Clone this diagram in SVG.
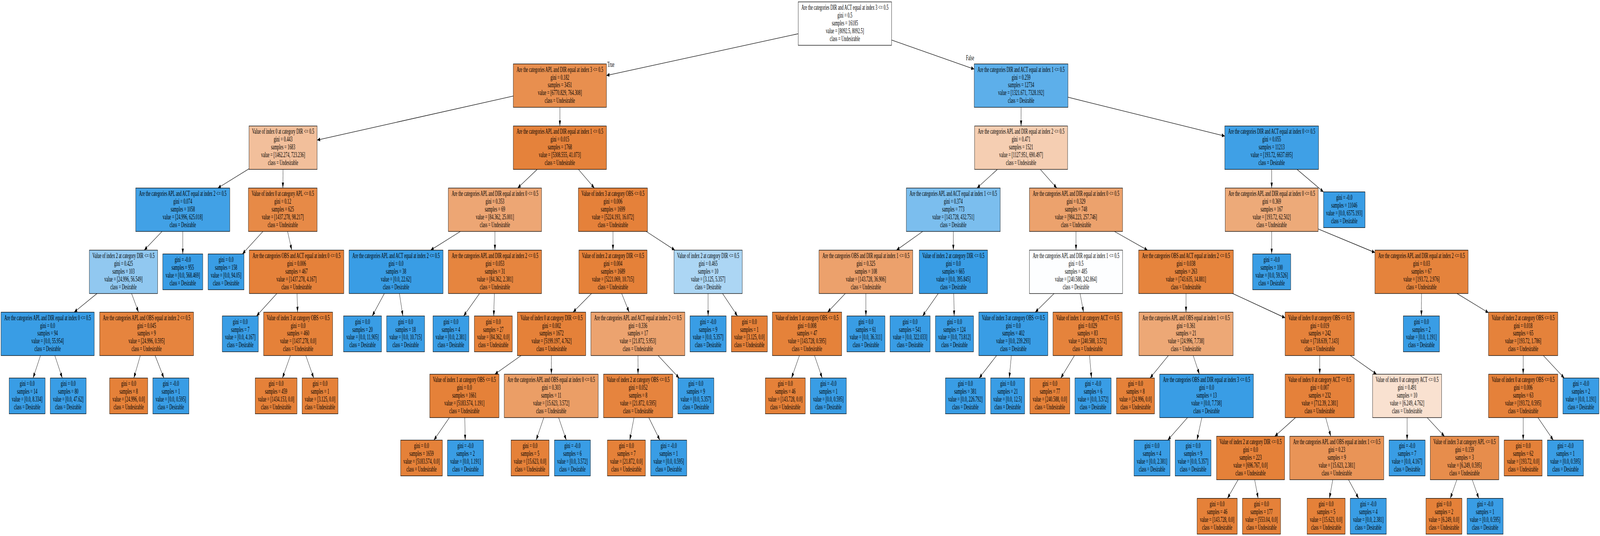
<svg xmlns="http://www.w3.org/2000/svg" width="7465" height="1371" viewBox="0 0 7465 1371" preserveAspectRatio="none">
<style>
svg{width:100vw;height:100vh;display:block}
text{font-family:"Liberation Serif","Times New Roman",serif;font-size:18px;text-anchor:middle;fill:#000}
.node rect{stroke:#000;stroke-width:1.3}
.o rect{fill:#e58139}
.b rect{fill:#399de5}
#edges line{stroke:#000;stroke-width:1.3;marker-end:url(#ah)}
</style>
<defs>
<marker id="ah" markerUnits="userSpaceOnUse" viewBox="0 0 14 10" markerWidth="14" markerHeight="10" refX="14" refY="5" orient="auto"><path d="M0,0L14,5L0,10z" fill="#000"/></marker>
</defs>
<rect width="7465" height="1371" fill="#fff"/>
<g id="edges">
<line x1="3724" y1="86.3" x2="2829.5" y2="193.1"/>
<line x1="4160" y1="102.4" x2="4545.4" y2="176.8"/>
<line x1="2394.8" y1="245.7" x2="1479.6" y2="358.3"/>
<line x1="2612.15" y1="274.5" x2="2612.15" y2="322.3"/>
<line x1="1162" y1="431.7" x2="1016.35" y2="481"/>
<line x1="1320.3" y1="433.3" x2="1319.8" y2="481"/>
<line x1="756.1" y1="592" x2="672.9" y2="639.8"/>
<line x1="852.75" y1="592" x2="852.75" y2="649.55"/>
<line x1="452.5" y1="750.8" x2="346" y2="798.5"/>
<line x1="613.9" y1="750.8" x2="646.3" y2="798.5"/>
<line x1="188.9" y1="909.5" x2="154.3" y2="966.95"/>
<line x1="255.85" y1="909.5" x2="290.65" y2="966.95"/>
<line x1="654.7" y1="909.5" x2="624.4" y2="966.95"/>
<line x1="723.6" y1="909.5" x2="764.6" y2="966.95"/>
<line x1="1226.8" y1="592" x2="1131" y2="649.55"/>
<line x1="1341.75" y1="592" x2="1361.05" y2="639.8"/>
<line x1="1291.7" y1="750.8" x2="1196.7" y2="808.25"/>
<line x1="1386.1" y1="750.8" x2="1388.4" y2="798.5"/>
<line x1="1355" y1="909.5" x2="1317.8" y2="966.95"/>
<line x1="1426.7" y1="909.5" x2="1463.7" y2="966.95"/>
<line x1="2506.2" y1="433.3" x2="2415.1" y2="481"/>
<line x1="2698.7" y1="433.3" x2="2773.15" y2="481"/>
<line x1="2147.9" y1="592" x2="2009.1" y2="639.8"/>
<line x1="2309.15" y1="592" x2="2309.15" y2="639.8"/>
<line x1="1793.2" y1="750.8" x2="1736.6" y2="808.25"/>
<line x1="1863.5" y1="750.8" x2="1879.6" y2="808.25"/>
<line x1="2237.3" y1="750.8" x2="2163" y2="808.25"/>
<line x1="2306.5" y1="750.8" x2="2303.7" y2="808.25"/>
<line x1="2859.8" y1="592" x2="2859.9" y2="639.8"/>
<line x1="3015" y1="592" x2="3148.6" y2="639.8"/>
<line x1="2759.8" y1="750.8" x2="2673.6" y2="798.5"/>
<line x1="2900.6" y1="750.8" x2="2935.4" y2="798.5"/>
<line x1="2431.1" y1="909.5" x2="2308.75" y2="957.2"/>
<line x1="2572.8" y1="909.5" x2="2572.3" y2="957.2"/>
<line x1="2096.6" y1="1068.2" x2="2024.3" y2="1125.75"/>
<line x1="2168.4" y1="1068.2" x2="2170.4" y2="1125.75"/>
<line x1="2537.2" y1="1068.2" x2="2501.5" y2="1125.75"/>
<line x1="2606.3" y1="1068.2" x2="2642.2" y2="1125.75"/>
<line x1="2976.4" y1="909.5" x2="2976.8" y2="957.2"/>
<line x1="3070.6" y1="909.5" x2="3168.65" y2="966.95"/>
<line x1="2958.1" y1="1068.2" x2="2938.2" y2="1125.75"/>
<line x1="3027.1" y1="1068.2" x2="3078.8" y2="1125.75"/>
<line x1="3303.85" y1="750.8" x2="3303.8" y2="808.25"/>
<line x1="3371.1" y1="750.8" x2="3440.8" y2="808.25"/>
<line x1="4764.05" y1="274.5" x2="4764" y2="322.3"/>
<line x1="4982.7" y1="248.7" x2="5714.5" y2="348.1"/>
<line x1="4653.4" y1="433.3" x2="4558.25" y2="481"/>
<line x1="4853.6" y1="433.3" x2="4930.6" y2="481"/>
<line x1="4305.1" y1="592" x2="4182.5" y2="639.8"/>
<line x1="4447.8" y1="592" x2="4447.9" y2="639.8"/>
<line x1="3943.9" y1="750.8" x2="3861.3" y2="798.5"/>
<line x1="4040" y1="750.8" x2="4040" y2="808.25"/>
<line x1="3729.8" y1="909.5" x2="3693" y2="966.95"/>
<line x1="3800.1" y1="909.5" x2="3836.1" y2="966.95"/>
<line x1="4377.5" y1="750.8" x2="4304.4" y2="808.25"/>
<line x1="4449.9" y1="750.8" x2="4451.8" y2="808.25"/>
<line x1="5020.2" y1="592" x2="5020.2" y2="639.8"/>
<line x1="5199.6" y1="592" x2="5353.9" y2="639.8"/>
<line x1="4918" y1="750.8" x2="4830.1" y2="798.5"/>
<line x1="5039.2" y1="750.8" x2="5055.5" y2="798.5"/>
<line x1="4649.6" y1="909.5" x2="4568.5" y2="966.95"/>
<line x1="4718.6" y1="909.5" x2="4708.9" y2="966.95"/>
<line x1="5012.9" y1="909.5" x2="4949.15" y2="966.95"/>
<line x1="5083.35" y1="909.5" x2="5092.5" y2="966.95"/>
<line x1="5533.4" y1="750.8" x2="5533.5" y2="798.5"/>
<line x1="5751.5" y1="750.8" x2="5996" y2="813"/>
<line x1="5451.2" y1="909.5" x2="5365.7" y2="966.95"/>
<line x1="5567.1" y1="909.5" x2="5595.9" y2="957.2"/>
<line x1="5540.35" y1="1068.2" x2="5448.2" y2="1125.75"/>
<line x1="5607.3" y1="1068.2" x2="5584.6" y2="1125.75"/>
<line x1="6157.3" y1="909.5" x2="6157.3" y2="957.2"/>
<line x1="6299.8" y1="909.5" x2="6422.5" y2="957.2"/>
<line x1="6044.5" y1="1068.2" x2="5947.5" y2="1116"/>
<line x1="6185.1" y1="1068.2" x2="6209" y2="1116"/>
<line x1="5776.6" y1="1227" x2="5726.7" y2="1274.7"/>
<line x1="5853.7" y1="1227" x2="5870.05" y2="1274.7"/>
<line x1="6218.3" y1="1227" x2="6202.5" y2="1274.7"/>
<line x1="6291.65" y1="1227" x2="6338.8" y2="1274.7"/>
<line x1="6565" y1="1068.2" x2="6565" y2="1125.75"/>
<line x1="6658.7" y1="1068.2" x2="6739.3" y2="1116"/>
<line x1="6797.2" y1="1227" x2="6766.5" y2="1274.7"/>
<line x1="6868.8" y1="1227" x2="6899.5" y2="1274.7"/>
<line x1="5933.2" y1="433.3" x2="5933.15" y2="481"/>
<line x1="6051.65" y1="433.3" x2="6175" y2="490.9"/>
<line x1="5933.2" y1="592" x2="5933.2" y2="649.55"/>
<line x1="6150" y1="585.7" x2="6415" y2="646"/>
<line x1="6632.2" y1="750.8" x2="6631.75" y2="808.25"/>
<line x1="6798" y1="750.8" x2="6945" y2="800"/>
<line x1="7106.5" y1="909.5" x2="7106.5" y2="957.2"/>
<line x1="7200.7" y1="909.5" x2="7298.3" y2="966.95"/>
<line x1="7106.5" y1="1068.2" x2="7106.5" y2="1125.75"/>
<line x1="7175.55" y1="1068.2" x2="7247.1" y2="1125.75"/>
<text x="2850" y="171">True</text>
<text x="4526" y="154">False</text>
</g>
<g id="n0" class="node"><rect x="3724" y="4.8" width="436" height="111" fill="#ffffff"/><text y="25"><tspan x="3942">Are the categories DIR and ACT equal at index 3 &lt;= 0.5</tspan><tspan x="3942" dy="19.9">gini = 0.5</tspan><tspan x="3942" dy="19.9">samples = 16185</tspan><tspan x="3942" dy="19.9">value = [8092.5, 8092.5]</tspan><tspan x="3942" dy="19.9">class = Undesirable</tspan></text></g>
<g id="n1" class="node"><rect x="2394.8" y="163.5" width="434.7" height="111" fill="#e88f4f"/><text y="183.7"><tspan x="2612.15">Are the categories APL and DIR equal at index 3 &lt;= 0.5</tspan><tspan x="2612.15" dy="19.9">gini = 0.182</tspan><tspan x="2612.15" dy="19.9">samples = 3451</tspan><tspan x="2612.15" dy="19.9">value = [6770.829, 764.308]</tspan><tspan x="2612.15" dy="19.9">class = Undesirable</tspan></text></g>
<g id="n2" class="node"><rect x="1162" y="322.3" width="317.6" height="111" fill="#f2bf9b"/><text y="342.5"><tspan x="1320.8">Value of index 0 at category DIR &lt;= 0.5</tspan><tspan x="1320.8" dy="19.9">gini = 0.443</tspan><tspan x="1320.8" dy="19.9">samples = 1683</tspan><tspan x="1320.8" dy="19.9">value = [1462.274, 723.236]</tspan><tspan x="1320.8" dy="19.9">class = Undesirable</tspan></text></g>
<g id="n3" class="node"><rect x="633.5" y="481" width="438.5" height="111" fill="#41a1e6"/><text y="501.2"><tspan x="852.75">Are the categories APL and ACT equal at index 2 &lt;= 0.5</tspan><tspan x="852.75" dy="19.9">gini = 0.074</tspan><tspan x="852.75" dy="19.9">samples = 1058</tspan><tspan x="852.75" dy="19.9">value = [24.996, 625.018]</tspan><tspan x="852.75" dy="19.9">class = Desirable</tspan></text></g>
<g id="n4" class="node"><rect x="417" y="639.8" width="318.5" height="111" fill="#91c8f0"/><text y="660"><tspan x="576.25">Value of index 2 at category DIR &lt;= 0.5</tspan><tspan x="576.25" dy="19.9">gini = 0.425</tspan><tspan x="576.25" dy="19.9">samples = 103</tspan><tspan x="576.25" dy="19.9">value = [24.996, 56.549]</tspan><tspan x="576.25" dy="19.9">class = Desirable</tspan></text></g>
<g id="n5" class="node b"><rect x="5" y="798.5" width="434.5" height="111"/><text y="818.7"><tspan x="222.25">Are the categories APL and DIR equal at index 0 &lt;= 0.5</tspan><tspan x="222.25" dy="19.9">gini = 0.0</tspan><tspan x="222.25" dy="19.9">samples = 94</tspan><tspan x="222.25" dy="19.9">value = [0.0, 55.954]</tspan><tspan x="222.25" dy="19.9">class = Desirable</tspan></text></g>
<g id="n6" class="node b"><rect x="43" y="966.95" width="167.6" height="91.5"/><text y="987.35"><tspan x="126.8">gini = 0.0</tspan><tspan x="126.8" dy="19.9">samples = 14</tspan><tspan x="126.8" dy="19.9">value = [0.0, 8.334]</tspan><tspan x="126.8" dy="19.9">class = Desirable</tspan></text></g>
<g id="n7" class="node b"><rect x="234.7" y="966.95" width="167.3" height="91.5"/><text y="987.35"><tspan x="318.35">gini = 0.0</tspan><tspan x="318.35" dy="19.9">samples = 80</tspan><tspan x="318.35" dy="19.9">value = [0.0, 47.62]</tspan><tspan x="318.35" dy="19.9">class = Desirable</tspan></text></g>
<g id="n8" class="node"><rect x="465" y="798.5" width="438" height="111" fill="#e6843e"/><text y="818.7"><tspan x="684">Are the categories APL and OBS equal at index 2 &lt;= 0.5</tspan><tspan x="684" dy="19.9">gini = 0.045</tspan><tspan x="684" dy="19.9">samples = 9</tspan><tspan x="684" dy="19.9">value = [24.996, 0.595]</tspan><tspan x="684" dy="19.9">class = Undesirable</tspan></text></g>
<g id="n9" class="node o"><rect x="511.6" y="966.95" width="177.4" height="91.5"/><text y="987.35"><tspan x="600.3">gini = 0.0</tspan><tspan x="600.3" dy="19.9">samples = 8</tspan><tspan x="600.3" dy="19.9">value = [24.996, 0.0]</tspan><tspan x="600.3" dy="19.9">class = Undesirable</tspan></text></g>
<g id="n10" class="node b"><rect x="713" y="966.95" width="168.5" height="91.5"/><text y="987.35"><tspan x="797.25">gini = -0.0</tspan><tspan x="797.25" dy="19.9">samples = 1</tspan><tspan x="797.25" dy="19.9">value = [0.0, 0.595]</tspan><tspan x="797.25" dy="19.9">class = Desirable</tspan></text></g>
<g id="n11" class="node b"><rect x="759.5" y="649.55" width="186.5" height="91.5"/><text y="669.95"><tspan x="852.75">gini = -0.0</tspan><tspan x="852.75" dy="19.9">samples = 955</tspan><tspan x="852.75" dy="19.9">value = [0.0, 568.469]</tspan><tspan x="852.75" dy="19.9">class = Desirable</tspan></text></g>
<g id="n12" class="node"><rect x="1159" y="481" width="320.6" height="111" fill="#e78a47"/><text y="501.2"><tspan x="1319.3">Value of index 0 at category APL &lt;= 0.5</tspan><tspan x="1319.3" dy="19.9">gini = 0.12</tspan><tspan x="1319.3" dy="19.9">samples = 625</tspan><tspan x="1319.3" dy="19.9">value = [1437.278, 98.217]</tspan><tspan x="1319.3" dy="19.9">class = Undesirable</tspan></text></g>
<g id="n13" class="node b"><rect x="971" y="649.55" width="167.5" height="91.5"/><text y="669.95"><tspan x="1054.75">gini = 0.0</tspan><tspan x="1054.75" dy="19.9">samples = 158</tspan><tspan x="1054.75" dy="19.9">value = [0.0, 94.05]</tspan><tspan x="1054.75" dy="19.9">class = Desirable</tspan></text></g>
<g id="n14" class="node"><rect x="1163" y="639.8" width="441" height="111" fill="#e5813a"/><text y="660"><tspan x="1383.5">Are the categories OBS and ACT equal at index 0 &lt;= 0.5</tspan><tspan x="1383.5" dy="19.9">gini = 0.006</tspan><tspan x="1383.5" dy="19.9">samples = 467</tspan><tspan x="1383.5" dy="19.9">value = [1437.278, 4.167]</tspan><tspan x="1383.5" dy="19.9">class = Undesirable</tspan></text></g>
<g id="n15" class="node b"><rect x="1037" y="808.25" width="168" height="91.5"/><text y="828.65"><tspan x="1121">gini = 0.0</tspan><tspan x="1121" dy="19.9">samples = 7</tspan><tspan x="1121" dy="19.9">value = [0.0, 4.167]</tspan><tspan x="1121" dy="19.9">class = Desirable</tspan></text></g>
<g id="n16" class="node o"><rect x="1230" y="798.5" width="322" height="111"/><text y="818.7"><tspan x="1391">Value of index 3 at category OBS &lt;= 0.5</tspan><tspan x="1391" dy="19.9">gini = 0.0</tspan><tspan x="1391" dy="19.9">samples = 460</tspan><tspan x="1391" dy="19.9">value = [1437.278, 0.0]</tspan><tspan x="1391" dy="19.9">class = Undesirable</tspan></text></g>
<g id="n17" class="node o"><rect x="1190.7" y="966.95" width="194.8" height="91.5"/><text y="987.35"><tspan x="1288.1">gini = 0.0</tspan><tspan x="1288.1" dy="19.9">samples = 459</tspan><tspan x="1288.1" dy="19.9">value = [1434.153, 0.0]</tspan><tspan x="1288.1" dy="19.9">class = Undesirable</tspan></text></g>
<g id="n18" class="node o"><rect x="1409.4" y="966.95" width="167.4" height="91.5"/><text y="987.35"><tspan x="1493.1">gini = 0.0</tspan><tspan x="1493.1" dy="19.9">samples = 1</tspan><tspan x="1493.1" dy="19.9">value = [3.125, 0.0]</tspan><tspan x="1493.1" dy="19.9">class = Undesirable</tspan></text></g>
<g id="n19" class="node"><rect x="2394.8" y="322.3" width="434.7" height="111" fill="#e5823b"/><text y="342.5"><tspan x="2612.15">Are the categories APL and DIR equal at index 1 &lt;= 0.5</tspan><tspan x="2612.15" dy="19.9">gini = 0.015</tspan><tspan x="2612.15" dy="19.9">samples = 1768</tspan><tspan x="2612.15" dy="19.9">value = [5308.555, 41.073]</tspan><tspan x="2612.15" dy="19.9">class = Undesirable</tspan></text></g>
<g id="n20" class="node"><rect x="2091.8" y="481" width="434.7" height="111" fill="#eda674"/><text y="501.2"><tspan x="2309.15">Are the categories APL and DIR equal at index 0 &lt;= 0.5</tspan><tspan x="2309.15" dy="19.9">gini = 0.353</tspan><tspan x="2309.15" dy="19.9">samples = 69</tspan><tspan x="2309.15" dy="19.9">value = [84.362, 25.001]</tspan><tspan x="2309.15" dy="19.9">class = Undesirable</tspan></text></g>
<g id="n21" class="node b"><rect x="1628.7" y="639.8" width="438.3" height="111"/><text y="660"><tspan x="1847.85">Are the categories APL and ACT equal at index 2 &lt;= 0.5</tspan><tspan x="1847.85" dy="19.9">gini = 0.0</tspan><tspan x="1847.85" dy="19.9">samples = 38</tspan><tspan x="1847.85" dy="19.9">value = [0.0, 22.62]</tspan><tspan x="1847.85" dy="19.9">class = Desirable</tspan></text></g>
<g id="n22" class="node b"><rect x="1603" y="808.25" width="177" height="91.5"/><text y="828.65"><tspan x="1691.5">gini = 0.0</tspan><tspan x="1691.5" dy="19.9">samples = 20</tspan><tspan x="1691.5" dy="19.9">value = [0.0, 11.905]</tspan><tspan x="1691.5" dy="19.9">class = Desirable</tspan></text></g>
<g id="n23" class="node b"><rect x="1804" y="808.25" width="177" height="91.5"/><text y="828.65"><tspan x="1892.5">gini = 0.0</tspan><tspan x="1892.5" dy="19.9">samples = 18</tspan><tspan x="1892.5" dy="19.9">value = [0.0, 10.715]</tspan><tspan x="1892.5" dy="19.9">class = Desirable</tspan></text></g>
<g id="n24" class="node"><rect x="2091.8" y="639.8" width="434.7" height="111" fill="#e6853f"/><text y="660"><tspan x="2309.15">Are the categories APL and DIR equal at index 2 &lt;= 0.5</tspan><tspan x="2309.15" dy="19.9">gini = 0.053</tspan><tspan x="2309.15" dy="19.9">samples = 31</tspan><tspan x="2309.15" dy="19.9">value = [84.362, 2.381]</tspan><tspan x="2309.15" dy="19.9">class = Undesirable</tspan></text></g>
<g id="n25" class="node b"><rect x="2020" y="808.25" width="167.5" height="91.5"/><text y="828.65"><tspan x="2103.75">gini = 0.0</tspan><tspan x="2103.75" dy="19.9">samples = 4</tspan><tspan x="2103.75" dy="19.9">value = [0.0, 2.381]</tspan><tspan x="2103.75" dy="19.9">class = Desirable</tspan></text></g>
<g id="n26" class="node o"><rect x="2213" y="808.25" width="177" height="91.5"/><text y="828.65"><tspan x="2301.5">gini = 0.0</tspan><tspan x="2301.5" dy="19.9">samples = 27</tspan><tspan x="2301.5" dy="19.9">value = [84.362, 0.0]</tspan><tspan x="2301.5" dy="19.9">class = Undesirable</tspan></text></g>
<g id="n27" class="node"><rect x="2698.7" y="481" width="322" height="111" fill="#e5813a"/><text y="501.2"><tspan x="2859.7">Value of index 3 at category OBS &lt;= 0.5</tspan><tspan x="2859.7" dy="19.9">gini = 0.006</tspan><tspan x="2859.7" dy="19.9">samples = 1699</tspan><tspan x="2859.7" dy="19.9">value = [5224.193, 16.072]</tspan><tspan x="2859.7" dy="19.9">class = Undesirable</tspan></text></g>
<g id="n28" class="node o"><rect x="2701" y="639.8" width="318" height="111"/><text y="660"><tspan x="2860">Value of index 2 at category DIR &lt;= 0.5</tspan><tspan x="2860" dy="19.9">gini = 0.004</tspan><tspan x="2860" dy="19.9">samples = 1689</tspan><tspan x="2860" dy="19.9">value = [5221.069, 10.715]</tspan><tspan x="2860" dy="19.9">class = Undesirable</tspan></text></g>
<g id="n29" class="node o"><rect x="2413.7" y="798.5" width="319.3" height="111"/><text y="818.7"><tspan x="2573.35">Value of index 0 at category DIR &lt;= 0.5</tspan><tspan x="2573.35" dy="19.9">gini = 0.002</tspan><tspan x="2573.35" dy="19.9">samples = 1672</tspan><tspan x="2573.35" dy="19.9">value = [5199.197, 4.762]</tspan><tspan x="2573.35" dy="19.9">class = Undesirable</tspan></text></g>
<g id="n30" class="node o"><rect x="2005" y="957.2" width="323" height="111"/><text y="977.4"><tspan x="2166.5">Value of index 1 at category OBS &lt;= 0.5</tspan><tspan x="2166.5" dy="19.9">gini = 0.0</tspan><tspan x="2166.5" dy="19.9">samples = 1661</tspan><tspan x="2166.5" dy="19.9">value = [5183.574, 1.191]</tspan><tspan x="2166.5" dy="19.9">class = Undesirable</tspan></text></g>
<g id="n31" class="node o"><rect x="1869.4" y="1125.75" width="194.6" height="91.5"/><text y="1146.15"><tspan x="1966.7">gini = 0.0</tspan><tspan x="1966.7" dy="19.9">samples = 1659</tspan><tspan x="1966.7" dy="19.9">value = [5183.574, 0.0]</tspan><tspan x="1966.7" dy="19.9">class = Undesirable</tspan></text></g>
<g id="n32" class="node b"><rect x="2088" y="1125.75" width="168" height="91.5"/><text y="1146.15"><tspan x="2172">gini = -0.0</tspan><tspan x="2172" dy="19.9">samples = 2</tspan><tspan x="2172" dy="19.9">value = [0.0, 1.191]</tspan><tspan x="2172" dy="19.9">class = Desirable</tspan></text></g>
<g id="n33" class="node"><rect x="2352.6" y="957.2" width="438.2" height="111" fill="#eb9e66"/><text y="977.4"><tspan x="2571.7">Are the categories APL and OBS equal at index 0 &lt;= 0.5</tspan><tspan x="2571.7" dy="19.9">gini = 0.303</tspan><tspan x="2571.7" dy="19.9">samples = 11</tspan><tspan x="2571.7" dy="19.9">value = [15.623, 3.572]</tspan><tspan x="2571.7" dy="19.9">class = Undesirable</tspan></text></g>
<g id="n34" class="node o"><rect x="2384.4" y="1125.75" width="177.4" height="91.5"/><text y="1146.15"><tspan x="2473.1">gini = 0.0</tspan><tspan x="2473.1" dy="19.9">samples = 5</tspan><tspan x="2473.1" dy="19.9">value = [15.623, 0.0]</tspan><tspan x="2473.1" dy="19.9">class = Undesirable</tspan></text></g>
<g id="n35" class="node b"><rect x="2586.8" y="1125.75" width="167.8" height="91.5"/><text y="1146.15"><tspan x="2670.7">gini = -0.0</tspan><tspan x="2670.7" dy="19.9">samples = 6</tspan><tspan x="2670.7" dy="19.9">value = [0.0, 3.572]</tspan><tspan x="2670.7" dy="19.9">class = Desirable</tspan></text></g>
<g id="n36" class="node"><rect x="2757" y="798.5" width="438" height="111" fill="#eca36f"/><text y="818.7"><tspan x="2976">Are the categories APL and ACT equal at index 2 &lt;= 0.5</tspan><tspan x="2976" dy="19.9">gini = 0.336</tspan><tspan x="2976" dy="19.9">samples = 17</tspan><tspan x="2976" dy="19.9">value = [21.872, 5.953]</tspan><tspan x="2976" dy="19.9">class = Undesirable</tspan></text></g>
<g id="n37" class="node"><rect x="2815.8" y="957.2" width="322.8" height="111" fill="#e6843e"/><text y="977.4"><tspan x="2977.2">Value of index 2 at category OBS &lt;= 0.5</tspan><tspan x="2977.2" dy="19.9">gini = 0.052</tspan><tspan x="2977.2" dy="19.9">samples = 8</tspan><tspan x="2977.2" dy="19.9">value = [21.872, 0.595]</tspan><tspan x="2977.2" dy="19.9">class = Undesirable</tspan></text></g>
<g id="n38" class="node o"><rect x="2833.9" y="1125.75" width="177.1" height="91.5"/><text y="1146.15"><tspan x="2922.45">gini = 0.0</tspan><tspan x="2922.45" dy="19.9">samples = 7</tspan><tspan x="2922.45" dy="19.9">value = [21.872, 0.0]</tspan><tspan x="2922.45" dy="19.9">class = Undesirable</tspan></text></g>
<g id="n39" class="node b"><rect x="3036" y="1125.75" width="168" height="91.5"/><text y="1146.15"><tspan x="3120">gini = -0.0</tspan><tspan x="3120" dy="19.9">samples = 1</tspan><tspan x="3120" dy="19.9">value = [0.0, 0.595]</tspan><tspan x="3120" dy="19.9">class = Desirable</tspan></text></g>
<g id="n40" class="node b"><rect x="3162.7" y="966.95" width="167.9" height="91.5"/><text y="987.35"><tspan x="3246.65">gini = 0.0</tspan><tspan x="3246.65" dy="19.9">samples = 9</tspan><tspan x="3246.65" dy="19.9">value = [0.0, 5.357]</tspan><tspan x="3246.65" dy="19.9">class = Desirable</tspan></text></g>
<g id="n41" class="node"><rect x="3144.7" y="639.8" width="318.3" height="111" fill="#acd6f4"/><text y="660"><tspan x="3303.85">Value of index 2 at category DIR &lt;= 0.5</tspan><tspan x="3303.85" dy="19.9">gini = 0.465</tspan><tspan x="3303.85" dy="19.9">samples = 10</tspan><tspan x="3303.85" dy="19.9">value = [3.125, 5.357]</tspan><tspan x="3303.85" dy="19.9">class = Desirable</tspan></text></g>
<g id="n42" class="node b"><rect x="3219.6" y="808.25" width="168.4" height="91.5"/><text y="828.65"><tspan x="3303.8">gini = -0.0</tspan><tspan x="3303.8" dy="19.9">samples = 9</tspan><tspan x="3303.8" dy="19.9">value = [0.0, 5.357]</tspan><tspan x="3303.8" dy="19.9">class = Desirable</tspan></text></g>
<g id="n43" class="node o"><rect x="3412.4" y="808.25" width="167.6" height="91.5"/><text y="828.65"><tspan x="3496.2">gini = 0.0</tspan><tspan x="3496.2" dy="19.9">samples = 1</tspan><tspan x="3496.2" dy="19.9">value = [3.125, 0.0]</tspan><tspan x="3496.2" dy="19.9">class = Undesirable</tspan></text></g>
<g id="n44" class="node"><rect x="4545.4" y="163.5" width="437.3" height="111" fill="#5dafea"/><text y="183.7"><tspan x="4764.05">Are the categories DIR and ACT equal at index 1 &lt;= 0.5</tspan><tspan x="4764.05" dy="19.9">gini = 0.259</tspan><tspan x="4764.05" dy="19.9">samples = 12734</tspan><tspan x="4764.05" dy="19.9">value = [1321.671, 7328.192]</tspan><tspan x="4764.05" dy="19.9">class = Desirable</tspan></text></g>
<g id="n45" class="node"><rect x="4547" y="322.3" width="434" height="111" fill="#f5ceb2"/><text y="342.5"><tspan x="4764">Are the categories APL and DIR equal at index 2 &lt;= 0.5</tspan><tspan x="4764" dy="19.9">gini = 0.471</tspan><tspan x="4764" dy="19.9">samples = 1521</tspan><tspan x="4764" dy="19.9">value = [1127.951, 690.497]</tspan><tspan x="4764" dy="19.9">class = Undesirable</tspan></text></g>
<g id="n46" class="node"><rect x="4228.5" y="481" width="438.3" height="111" fill="#7bbeee"/><text y="501.2"><tspan x="4447.65">Are the categories APL and ACT equal at index 1 &lt;= 0.5</tspan><tspan x="4447.65" dy="19.9">gini = 0.374</tspan><tspan x="4447.65" dy="19.9">samples = 773</tspan><tspan x="4447.65" dy="19.9">value = [143.728, 432.751]</tspan><tspan x="4447.65" dy="19.9">class = Desirable</tspan></text></g>
<g id="n47" class="node"><rect x="3821.3" y="639.8" width="437.4" height="111" fill="#eca16c"/><text y="660"><tspan x="4040">Are the categories OBS and DIR equal at index 1 &lt;= 0.5</tspan><tspan x="4040" dy="19.9">gini = 0.325</tspan><tspan x="4040" dy="19.9">samples = 108</tspan><tspan x="4040" dy="19.9">value = [143.728, 36.906]</tspan><tspan x="4040" dy="19.9">class = Undesirable</tspan></text></g>
<g id="n48" class="node"><rect x="3603.5" y="798.5" width="323.5" height="111" fill="#e5823a"/><text y="818.7"><tspan x="3765.25">Value of index 1 at category OBS &lt;= 0.5</tspan><tspan x="3765.25" dy="19.9">gini = 0.008</tspan><tspan x="3765.25" dy="19.9">samples = 47</tspan><tspan x="3765.25" dy="19.9">value = [143.728, 0.595]</tspan><tspan x="3765.25" dy="19.9">class = Undesirable</tspan></text></g>
<g id="n49" class="node o"><rect x="3570.8" y="966.95" width="186" height="91.5"/><text y="987.35"><tspan x="3663.8">gini = 0.0</tspan><tspan x="3663.8" dy="19.9">samples = 46</tspan><tspan x="3663.8" dy="19.9">value = [143.728, 0.0]</tspan><tspan x="3663.8" dy="19.9">class = Undesirable</tspan></text></g>
<g id="n50" class="node b"><rect x="3780.9" y="966.95" width="167.9" height="91.5"/><text y="987.35"><tspan x="3864.85">gini = -0.0</tspan><tspan x="3864.85" dy="19.9">samples = 1</tspan><tspan x="3864.85" dy="19.9">value = [0.0, 0.595]</tspan><tspan x="3864.85" dy="19.9">class = Desirable</tspan></text></g>
<g id="n51" class="node b"><rect x="3951.3" y="808.25" width="177.4" height="91.5"/><text y="828.65"><tspan x="4040">gini = 0.0</tspan><tspan x="4040" dy="19.9">samples = 61</tspan><tspan x="4040" dy="19.9">value = [0.0, 36.311]</tspan><tspan x="4040" dy="19.9">class = Desirable</tspan></text></g>
<g id="n52" class="node b"><rect x="4288.8" y="639.8" width="318.6" height="111"/><text y="660"><tspan x="4448.1">Value of index 2 at category DIR &lt;= 0.5</tspan><tspan x="4448.1" dy="19.9">gini = 0.0</tspan><tspan x="4448.1" dy="19.9">samples = 665</tspan><tspan x="4448.1" dy="19.9">value = [0.0, 395.845]</tspan><tspan x="4448.1" dy="19.9">class = Desirable</tspan></text></g>
<g id="n53" class="node b"><rect x="4152.8" y="808.25" width="186.8" height="91.5"/><text y="828.65"><tspan x="4246.2">gini = 0.0</tspan><tspan x="4246.2" dy="19.9">samples = 541</tspan><tspan x="4246.2" dy="19.9">value = [0.0, 322.033]</tspan><tspan x="4246.2" dy="19.9">class = Desirable</tspan></text></g>
<g id="n54" class="node b"><rect x="4364.6" y="808.25" width="177.4" height="91.5"/><text y="828.65"><tspan x="4453.3">gini = 0.0</tspan><tspan x="4453.3" dy="19.9">samples = 124</tspan><tspan x="4453.3" dy="19.9">value = [0.0, 73.812]</tspan><tspan x="4453.3" dy="19.9">class = Desirable</tspan></text></g>
<g id="n55" class="node"><rect x="4802.8" y="481" width="434.8" height="111" fill="#eca26d"/><text y="501.2"><tspan x="5020.2">Are the categories APL and DIR equal at index 0 &lt;= 0.5</tspan><tspan x="5020.2" dy="19.9">gini = 0.329</tspan><tspan x="5020.2" dy="19.9">samples = 748</tspan><tspan x="5020.2" dy="19.9">value = [984.223, 257.746]</tspan><tspan x="5020.2" dy="19.9">class = Undesirable</tspan></text></g>
<g id="n56" class="node"><rect x="4802.8" y="639.8" width="434.8" height="111" fill="#fdfeff"/><text y="660"><tspan x="5020.2">Are the categories APL and DIR equal at index 1 &lt;= 0.5</tspan><tspan x="5020.2" dy="19.9">gini = 0.5</tspan><tspan x="5020.2" dy="19.9">samples = 485</tspan><tspan x="5020.2" dy="19.9">value = [240.588, 242.864]</tspan><tspan x="5020.2" dy="19.9">class = Desirable</tspan></text></g>
<g id="n57" class="node b"><rect x="4566.9" y="798.5" width="322" height="111"/><text y="818.7"><tspan x="4727.9">Value of index 3 at category OBS &lt;= 0.5</tspan><tspan x="4727.9" dy="19.9">gini = 0.0</tspan><tspan x="4727.9" dy="19.9">samples = 402</tspan><tspan x="4727.9" dy="19.9">value = [0.0, 239.293]</tspan><tspan x="4727.9" dy="19.9">class = Desirable</tspan></text></g>
<g id="n58" class="node b"><rect x="4411" y="966.95" width="186" height="91.5"/><text y="987.35"><tspan x="4504">gini = 0.0</tspan><tspan x="4504" dy="19.9">samples = 381</tspan><tspan x="4504" dy="19.9">value = [0.0, 226.792]</tspan><tspan x="4504" dy="19.9">class = Desirable</tspan></text></g>
<g id="n59" class="node b"><rect x="4622" y="966.95" width="158.5" height="91.5"/><text y="987.35"><tspan x="4701.25">gini = 0.0</tspan><tspan x="4701.25" dy="19.9">samples = 21</tspan><tspan x="4701.25" dy="19.9">value = [0.0, 12.5]</tspan><tspan x="4701.25" dy="19.9">class = Desirable</tspan></text></g>
<g id="n60" class="node"><rect x="4913" y="798.5" width="323" height="111" fill="#e5833c"/><text y="818.7"><tspan x="5074.5">Value of index 1 at category ACT &lt;= 0.5</tspan><tspan x="5074.5" dy="19.9">gini = 0.029</tspan><tspan x="5074.5" dy="19.9">samples = 83</tspan><tspan x="5074.5" dy="19.9">value = [240.588, 3.572]</tspan><tspan x="5074.5" dy="19.9">class = Undesirable</tspan></text></g>
<g id="n61" class="node o"><rect x="4805.4" y="966.95" width="186" height="91.5"/><text y="987.35"><tspan x="4898.4">gini = 0.0</tspan><tspan x="4898.4" dy="19.9">samples = 77</tspan><tspan x="4898.4" dy="19.9">value = [240.588, 0.0]</tspan><tspan x="4898.4" dy="19.9">class = Undesirable</tspan></text></g>
<g id="n62" class="node b"><rect x="5015.4" y="966.95" width="168.8" height="91.5"/><text y="987.35"><tspan x="5099.8">gini = -0.0</tspan><tspan x="5099.8" dy="19.9">samples = 6</tspan><tspan x="5099.8" dy="19.9">value = [0.0, 3.572]</tspan><tspan x="5099.8" dy="19.9">class = Desirable</tspan></text></g>
<g id="n63" class="node"><rect x="5312.5" y="639.8" width="441.6" height="111" fill="#e6843d"/><text y="660"><tspan x="5533.3">Are the categories OBS and ACT equal at index 2 &lt;= 0.5</tspan><tspan x="5533.3" dy="19.9">gini = 0.038</tspan><tspan x="5533.3" dy="19.9">samples = 263</tspan><tspan x="5533.3" dy="19.9">value = [743.635, 14.881]</tspan><tspan x="5533.3" dy="19.9">class = Undesirable</tspan></text></g>
<g id="n64" class="node"><rect x="5314" y="798.5" width="439.3" height="111" fill="#eda876"/><text y="818.7"><tspan x="5533.65">Are the categories APL and OBS equal at index 1 &lt;= 0.5</tspan><tspan x="5533.65" dy="19.9">gini = 0.361</tspan><tspan x="5533.65" dy="19.9">samples = 21</tspan><tspan x="5533.65" dy="19.9">value = [24.996, 7.738]</tspan><tspan x="5533.65" dy="19.9">class = Undesirable</tspan></text></g>
<g id="n65" class="node o"><rect x="5209" y="966.95" width="177.5" height="91.5"/><text y="987.35"><tspan x="5297.75">gini = 0.0</tspan><tspan x="5297.75" dy="19.9">samples = 8</tspan><tspan x="5297.75" dy="19.9">value = [24.996, 0.0]</tspan><tspan x="5297.75" dy="19.9">class = Undesirable</tspan></text></g>
<g id="n66" class="node b"><rect x="5410.6" y="957.2" width="437.4" height="111"/><text y="977.4"><tspan x="5629.3">Are the categories OBS and DIR equal at index 3 &lt;= 0.5</tspan><tspan x="5629.3" dy="19.9">gini = 0.0</tspan><tspan x="5629.3" dy="19.9">samples = 13</tspan><tspan x="5629.3" dy="19.9">value = [0.0, 7.738]</tspan><tspan x="5629.3" dy="19.9">class = Desirable</tspan></text></g>
<g id="n67" class="node b"><rect x="5291" y="1125.75" width="167.8" height="91.5"/><text y="1146.15"><tspan x="5374.9">gini = 0.0</tspan><tspan x="5374.9" dy="19.9">samples = 4</tspan><tspan x="5374.9" dy="19.9">value = [0.0, 2.381]</tspan><tspan x="5374.9" dy="19.9">class = Desirable</tspan></text></g>
<g id="n68" class="node b"><rect x="5483" y="1125.75" width="167" height="91.5"/><text y="1146.15"><tspan x="5566.5">gini = 0.0</tspan><tspan x="5566.5" dy="19.9">samples = 9</tspan><tspan x="5566.5" dy="19.9">value = [0.0, 5.357]</tspan><tspan x="5566.5" dy="19.9">class = Desirable</tspan></text></g>
<g id="n69" class="node"><rect x="5996" y="798.5" width="322.6" height="111" fill="#e5823b"/><text y="818.7"><tspan x="6157.3">Value of index 0 at category OBS &lt;= 0.5</tspan><tspan x="6157.3" dy="19.9">gini = 0.019</tspan><tspan x="6157.3" dy="19.9">samples = 242</tspan><tspan x="6157.3" dy="19.9">value = [718.639, 7.143]</tspan><tspan x="6157.3" dy="19.9">class = Undesirable</tspan></text></g>
<g id="n70" class="node"><rect x="5996" y="957.2" width="322.6" height="111" fill="#e5813a"/><text y="977.4"><tspan x="6157.3">Value of index 0 at category ACT &lt;= 0.5</tspan><tspan x="6157.3" dy="19.9">gini = 0.007</tspan><tspan x="6157.3" dy="19.9">samples = 232</tspan><tspan x="6157.3" dy="19.9">value = [712.39, 2.381]</tspan><tspan x="6157.3" dy="19.9">class = Undesirable</tspan></text></g>
<g id="n71" class="node o"><rect x="5675.8" y="1116" width="317.7" height="111"/><text y="1136.2"><tspan x="5834.65">Value of index 2 at category DIR &lt;= 0.5</tspan><tspan x="5834.65" dy="19.9">gini = 0.0</tspan><tspan x="5834.65" dy="19.9">samples = 223</tspan><tspan x="5834.65" dy="19.9">value = [696.767, 0.0]</tspan><tspan x="5834.65" dy="19.9">class = Undesirable</tspan></text></g>
<g id="n72" class="node o"><rect x="5585.4" y="1274.7" width="186.8" height="91.5"/><text y="1295.1"><tspan x="5678.8">gini = 0.0</tspan><tspan x="5678.8" dy="19.9">samples = 46</tspan><tspan x="5678.8" dy="19.9">value = [143.728, 0.0]</tspan><tspan x="5678.8" dy="19.9">class = Undesirable</tspan></text></g>
<g id="n73" class="node o"><rect x="5797" y="1274.7" width="177.5" height="91.5"/><text y="1295.1"><tspan x="5885.75">gini = 0.0</tspan><tspan x="5885.75" dy="19.9">samples = 177</tspan><tspan x="5885.75" dy="19.9">value = [553.04, 0.0]</tspan><tspan x="5885.75" dy="19.9">class = Undesirable</tspan></text></g>
<g id="n74" class="node"><rect x="6017.6" y="1116" width="438.4" height="111" fill="#e99457"/><text y="1136.2"><tspan x="6236.8">Are the categories APL and OBS equal at index 1 &lt;= 0.5</tspan><tspan x="6236.8" dy="19.9">gini = 0.23</tspan><tspan x="6236.8" dy="19.9">samples = 9</tspan><tspan x="6236.8" dy="19.9">value = [15.623, 2.381]</tspan><tspan x="6236.8" dy="19.9">class = Undesirable</tspan></text></g>
<g id="n75" class="node o"><rect x="6098.5" y="1274.7" width="177.5" height="91.5"/><text y="1295.1"><tspan x="6187.25">gini = 0.0</tspan><tspan x="6187.25" dy="19.9">samples = 5</tspan><tspan x="6187.25" dy="19.9">value = [15.623, 0.0]</tspan><tspan x="6187.25" dy="19.9">class = Undesirable</tspan></text></g>
<g id="n76" class="node b"><rect x="6300" y="1274.7" width="168" height="91.5"/><text y="1295.1"><tspan x="6384">gini = -0.0</tspan><tspan x="6384" dy="19.9">samples = 4</tspan><tspan x="6384" dy="19.9">value = [0.0, 2.381]</tspan><tspan x="6384" dy="19.9">class = Desirable</tspan></text></g>
<g id="n77" class="node"><rect x="6404" y="957.2" width="322" height="111" fill="#f9e1d0"/><text y="977.4"><tspan x="6565">Value of index 0 at category ACT &lt;= 0.5</tspan><tspan x="6565" dy="19.9">gini = 0.491</tspan><tspan x="6565" dy="19.9">samples = 10</tspan><tspan x="6565" dy="19.9">value = [6.249, 4.762]</tspan><tspan x="6565" dy="19.9">class = Undesirable</tspan></text></g>
<g id="n78" class="node b"><rect x="6481" y="1125.75" width="168" height="91.5"/><text y="1146.15"><tspan x="6565">gini = -0.0</tspan><tspan x="6565" dy="19.9">samples = 7</tspan><tspan x="6565" dy="19.9">value = [0.0, 4.167]</tspan><tspan x="6565" dy="19.9">class = Desirable</tspan></text></g>
<g id="n79" class="node"><rect x="6673" y="1116" width="320" height="111" fill="#e78d4c"/><text y="1136.2"><tspan x="6833">Value of index 3 at category APL &lt;= 0.5</tspan><tspan x="6833" dy="19.9">gini = 0.159</tspan><tspan x="6833" dy="19.9">samples = 3</tspan><tspan x="6833" dy="19.9">value = [6.249, 0.595]</tspan><tspan x="6833" dy="19.9">class = Undesirable</tspan></text></g>
<g id="n80" class="node o"><rect x="6653" y="1274.7" width="168" height="91.5"/><text y="1295.1"><tspan x="6737">gini = 0.0</tspan><tspan x="6737" dy="19.9">samples = 2</tspan><tspan x="6737" dy="19.9">value = [6.249, 0.0]</tspan><tspan x="6737" dy="19.9">class = Undesirable</tspan></text></g>
<g id="n81" class="node b"><rect x="6845" y="1274.7" width="168" height="91.5"/><text y="1295.1"><tspan x="6929">gini = -0.0</tspan><tspan x="6929" dy="19.9">samples = 1</tspan><tspan x="6929" dy="19.9">value = [0.0, 0.595]</tspan><tspan x="6929" dy="19.9">class = Desirable</tspan></text></g>
<g id="n82" class="node"><rect x="5714.5" y="322.3" width="437.4" height="111" fill="#3fa0e6"/><text y="342.5"><tspan x="5933.2">Are the categories DIR and ACT equal at index 0 &lt;= 0.5</tspan><tspan x="5933.2" dy="19.9">gini = 0.055</tspan><tspan x="5933.2" dy="19.9">samples = 11213</tspan><tspan x="5933.2" dy="19.9">value = [193.72, 6637.695]</tspan><tspan x="5933.2" dy="19.9">class = Desirable</tspan></text></g>
<g id="n83" class="node"><rect x="5716.3" y="481" width="433.7" height="111" fill="#edaa79"/><text y="501.2"><tspan x="5933.15">Are the categories APL and DIR equal at index 0 &lt;= 0.5</tspan><tspan x="5933.15" dy="19.9">gini = 0.369</tspan><tspan x="5933.15" dy="19.9">samples = 167</tspan><tspan x="5933.15" dy="19.9">value = [193.72, 62.502]</tspan><tspan x="5933.15" dy="19.9">class = Undesirable</tspan></text></g>
<g id="n84" class="node b"><rect x="5844.5" y="649.55" width="177.4" height="91.5"/><text y="669.95"><tspan x="5933.2">gini = -0.0</tspan><tspan x="5933.2" dy="19.9">samples = 100</tspan><tspan x="5933.2" dy="19.9">value = [0.0, 59.526]</tspan><tspan x="5933.2" dy="19.9">class = Desirable</tspan></text></g>
<g id="n85" class="node"><rect x="6415" y="639.8" width="434.4" height="111" fill="#e5833c"/><text y="660"><tspan x="6632.2">Are the categories APL and DIR equal at index 2 &lt;= 0.5</tspan><tspan x="6632.2" dy="19.9">gini = 0.03</tspan><tspan x="6632.2" dy="19.9">samples = 67</tspan><tspan x="6632.2" dy="19.9">value = [193.72, 2.976]</tspan><tspan x="6632.2" dy="19.9">class = Undesirable</tspan></text></g>
<g id="n86" class="node b"><rect x="6547.5" y="808.25" width="168.5" height="91.5"/><text y="828.65"><tspan x="6631.75">gini = 0.0</tspan><tspan x="6631.75" dy="19.9">samples = 2</tspan><tspan x="6631.75" dy="19.9">value = [0.0, 1.191]</tspan><tspan x="6631.75" dy="19.9">class = Desirable</tspan></text></g>
<g id="n87" class="node"><rect x="6945" y="798.5" width="323" height="111" fill="#e5823b"/><text y="818.7"><tspan x="7106.5">Value of index 2 at category OBS &lt;= 0.5</tspan><tspan x="7106.5" dy="19.9">gini = 0.018</tspan><tspan x="7106.5" dy="19.9">samples = 65</tspan><tspan x="7106.5" dy="19.9">value = [193.72, 1.786]</tspan><tspan x="7106.5" dy="19.9">class = Undesirable</tspan></text></g>
<g id="n88" class="node"><rect x="6945" y="957.2" width="323" height="111" fill="#e5813a"/><text y="977.4"><tspan x="7106.5">Value of index 0 at category OBS &lt;= 0.5</tspan><tspan x="7106.5" dy="19.9">gini = 0.006</tspan><tspan x="7106.5" dy="19.9">samples = 63</tspan><tspan x="7106.5" dy="19.9">value = [193.72, 0.595]</tspan><tspan x="7106.5" dy="19.9">class = Undesirable</tspan></text></g>
<g id="n89" class="node o"><rect x="7018" y="1125.75" width="177" height="91.5"/><text y="1146.15"><tspan x="7106.5">gini = 0.0</tspan><tspan x="7106.5" dy="19.9">samples = 62</tspan><tspan x="7106.5" dy="19.9">value = [193.72, 0.0]</tspan><tspan x="7106.5" dy="19.9">class = Undesirable</tspan></text></g>
<g id="n90" class="node b"><rect x="7220" y="1125.75" width="168" height="91.5"/><text y="1146.15"><tspan x="7304">gini = -0.0</tspan><tspan x="7304" dy="19.9">samples = 1</tspan><tspan x="7304" dy="19.9">value = [0.0, 0.595]</tspan><tspan x="7304" dy="19.9">class = Desirable</tspan></text></g>
<g id="n91" class="node b"><rect x="7292" y="966.95" width="168" height="91.5"/><text y="987.35"><tspan x="7376">gini = -0.0</tspan><tspan x="7376" dy="19.9">samples = 2</tspan><tspan x="7376" dy="19.9">value = [0.0, 1.191]</tspan><tspan x="7376" dy="19.9">class = Desirable</tspan></text></g>
<g id="n92" class="node b"><rect x="6175" y="490.75" width="194" height="91.5"/><text y="511.15"><tspan x="6272">gini = -0.0</tspan><tspan x="6272" dy="19.9">samples = 11046</tspan><tspan x="6272" dy="19.9">value = [0.0, 6575.193]</tspan><tspan x="6272" dy="19.9">class = Desirable</tspan></text></g>
</svg>
